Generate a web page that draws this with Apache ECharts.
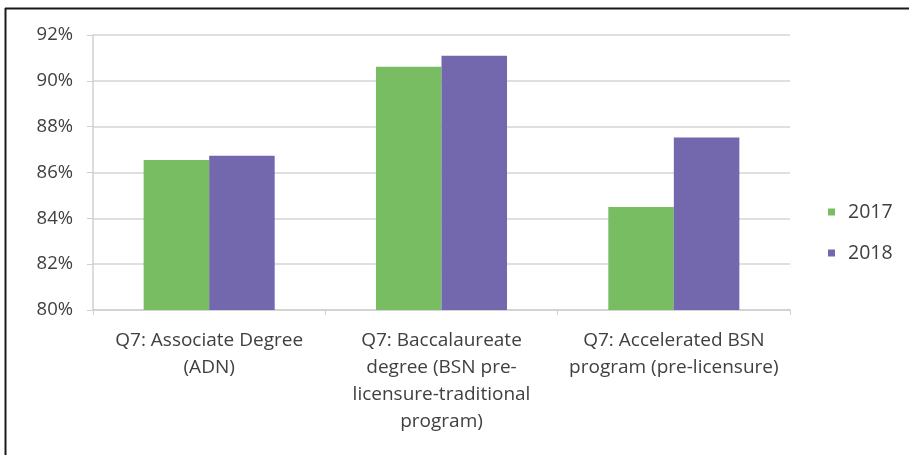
<!DOCTYPE html>
<html>
<head>
<meta charset="utf-8">
<script src="https://cdn.jsdelivr.net/npm/echarts@6/dist/echarts.min.js"></script>
<style>
  html, body { margin: 0; padding: 0; background: #ffffff; }
  #chart { width: 909px; height: 455px; }
</style>
</head>
<body>
<div id="chart"></div>
<script>
// Program types (category axis)
const categories = [
  'Q7: Associate Degree\n(ADN)',
  'Q7: Baccalaureate\ndegree (BSN pre-\nlicensure-traditional\nprogram)',
  'Q7: Accelerated BSN\nprogram (pre-licensure)'
];
// Percentages per year
const values2017 = [86.55, 90.62, 84.5];
const values2018 = [86.73, 91.1, 87.53];
const seriesNames = ['2017', '2018'];
// Value axis range (percent)
const yMin = 80, yMax = 92, yStep = 2;

const FONT = '"Open Sans", Lato, sans-serif';
const TEXT = '#404040';

const chart = echarts.init(document.getElementById('chart'), null, { renderer: 'canvas' });

chart.setOption({
  backgroundColor: '#ffffff',
  animation: false,
  textStyle: { fontFamily: FONT },
  graphic: [
    { type: 'line', shape: { x1: 5, y1: 8.5, x2: 909, y2: 8.5 }, style: { stroke: '#1a1a1a', lineWidth: 2 } },
    { type: 'line', shape: { x1: 5.5, y1: 8, x2: 5.5, y2: 455 }, style: { stroke: '#1a1a1a', lineWidth: 2 } }
  ],
  grid: { left: 93, right: 119, top: 35, bottom: 145, containLabel: false },
  legend: {
    orient: 'vertical',
    left: 823,
    top: 196,
    itemWidth: 7,
    itemHeight: 7,
    itemGap: 19,
    icon: 'rect',
    textStyle: { fontFamily: FONT, fontSize: 19.5, lineHeight: 22, color: TEXT, padding: [0, 0, 0, 8] },
    data: seriesNames
  },
  xAxis: {
    type: 'category',
    data: categories,
    axisLine: { show: true, lineStyle: { color: '#d0d0d0', width: 1.5 } },
    axisTick: { show: true, length: 5, lineStyle: { color: '#d0d0d0' } },
    axisLabel: {
      interval: 0,
      margin: 17,
      fontFamily: FONT,
      fontSize: 19,
      lineHeight: 27,
      color: TEXT,
      align: 'center'
    }
  },
  yAxis: {
    type: 'value',
    min: yMin,
    max: yMax,
    interval: yStep,
    axisLine: { show: true, lineStyle: { color: '#d0d0d0', width: 1.5 } },
    axisTick: { show: true, length: 6, lineStyle: { color: '#d0d0d0' } },
    splitLine: { show: true, lineStyle: { color: '#d4d4d4', width: 1.5 } },
    axisLabel: {
      formatter: '{value}%',
      margin: 20,
      fontFamily: FONT,
      fontSize: 18.5,
      color: TEXT
    }
  },
  series: [
    {
      name: seriesNames[0],
      type: 'bar',
      data: values2017,
      barWidth: '28.2%',
      barGap: '0%',
      barCategoryGap: '43.6%',
      itemStyle: { color: '#78bd62' }
    },
    {
      name: seriesNames[1],
      type: 'bar',
      data: values2018,
      barWidth: '28.2%',
      barGap: '0%',
      itemStyle: { color: '#7367ae' }
    }
  ]
});
</script>
</body>
</html>
